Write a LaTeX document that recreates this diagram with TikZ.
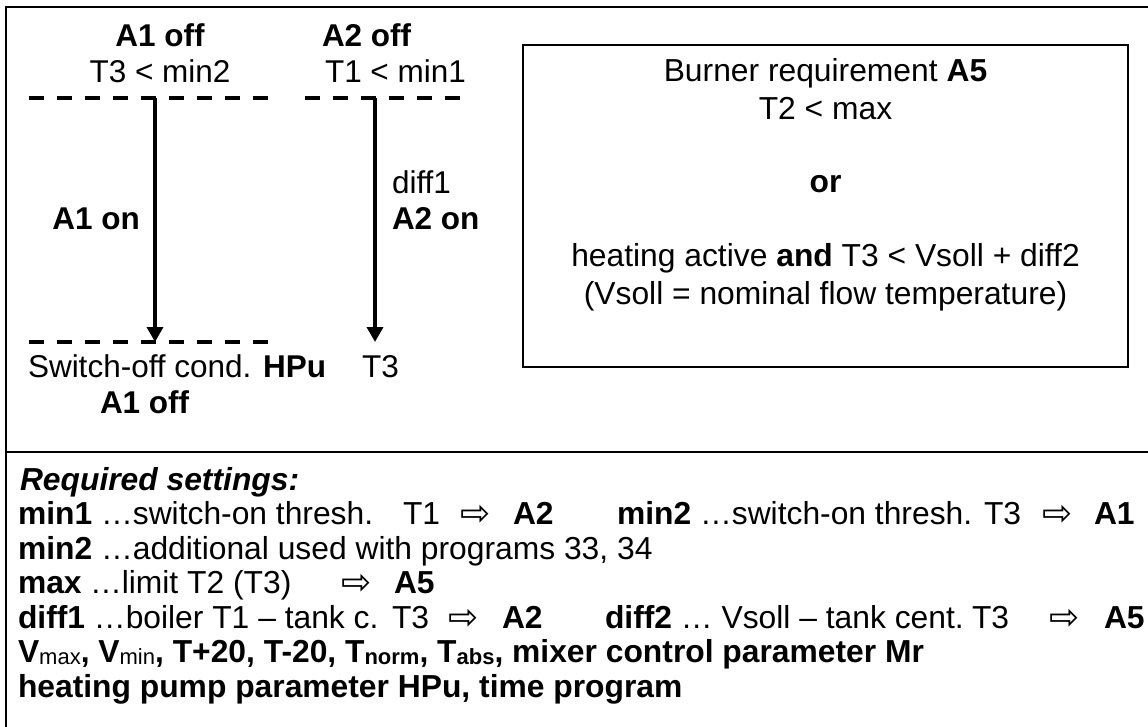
\documentclass[tikz,border=0pt]{standalone}
\usepackage{fontspec}
\setmainfont{Liberation Sans}
\newfontfamily\symfont{DejaVu Sans}
\usetikzlibrary{arrows.meta}
\newcommand\myarrow{{\symfont\fontsize{36}{36}\selectfont\raisebox{-1pt}{⇨}}}
\newcommand\mysubr[1]{{\fontsize{22}{22}\selectfont\mdseries\raisebox{-2pt}{#1}}}
\newcommand\mysubb[1]{{\fontsize{22}{22}\selectfont\bfseries\raisebox{-2pt}{#1}}}
\tikzset{
  txt/.style={inner sep=0pt, outer sep=0pt, font=\fontsize{31.5}{36}\selectfont},
  lt/.style={txt, anchor=base west},
  ct/.style={txt, anchor=base},
  rt/.style={txt, anchor=base east},
  bt/.style={inner sep=0pt, outer sep=0pt, anchor=base, font=\fontsize{31.8}{36}\selectfont},
  st/.style={inner sep=0pt, outer sep=0pt, anchor=base west, font=\fontsize{31.8}{36}\selectfont},
  dline/.style={line width=4pt, dash pattern=on 15pt off 13pt, line cap=butt},
  flow/.style={line width=3.5pt, -{Triangle[width=16pt,length=15pt]}},
  frameline/.style={line width=2pt},
  condbox/.style={line width=2.5pt},
}
\begin{document}
\begin{tikzpicture}[x=1pt,y=-1pt]
\useasboundingbox (0,0) rectangle (1148,727);
% outer frame
\draw[frameline] (6,727) -- (6,7) -- (1148,7);
\draw[frameline] (6,452) -- (1148,452);
% condition box
\draw[condbox] (523,45) rectangle (1128,367);
\node[bt] (br) at (825.5,82) {Burner requirement \textbf{A5}};
\node[bt] (tmax) at (825.5,120) {T2 < max};
\node[bt] (or) at (825.5,193) {\textbf{or}};
\node[bt] (heat) at (825.5,267) {heating active \textbf{and} T3 < Vsoll + diff2};
\node[bt] (vsoll) at (825.5,304) {(Vsoll = nominal flow temperature)};
% top labels
\node[ct] (a1off) at (160,47) {\textbf{A1 off}};
\node[ct] (t3min2) at (160,83) {T3 < min2};
\node[lt] (a2off) at (322,47) {\textbf{A2 off}};
\node[lt] (t1min1) at (325,83) {T1 < min1};
% dashed levels
\coordinate (l1a) at (29,98);
\coordinate (l1b) at (268,98);
\coordinate (l2a) at (305,98);
\coordinate (l2b) at (462,98);
\coordinate (l3a) at (29,342);
\coordinate (l3b) at (268,342);
\draw[dline] (l1a) -- (l1b);
\draw[dline] (l2a) -- (l2b);
\draw[dline] (l3a) -- (l3b);
% arrows
\coordinate (a1top) at (155,98);
\coordinate (a1bot) at (155,342);
\coordinate (a2top) at (375,98);
\coordinate (a2bot) at (375,342);
\draw[flow] (a1top) -- (a1bot);
\draw[flow] (a2top) -- (a2bot);
\node[rt] (a1on) at (140,230) {\textbf{A1 on}};
\node[lt] (diff1) at (392,194) {diff1};
\node[lt] (a2on) at (392,230) {\textbf{A2 on}};
\node[lt] (swoff) at (28,377) {Switch-off cond. \textbf{HPu}};
\node[lt] (t3) at (362,377) {T3};
\node[lt] (a1off2) at (100,413) {\textbf{A1 off}};
% settings
\node[st] (req) at (20,490) {\textbf{\itshape Required settings:}};
\node[st] (s1a) at (18,524.5) {\textbf{min1} …switch-on thresh.};
\node[st] (s1b) at (403,524.5) {T1};
\node[st] (s1c) at (460,524.5) {\myarrow};
\node[st] (s1d) at (513,524.5) {\textbf{A2}};
\node[st] (s1e) at (617,524.5) {\textbf{min2} …switch-on thresh.};
\node[st] (s1f) at (984,524.5) {T3};
\node[st] (s1g) at (1042,524.5) {\myarrow};
\node[st] (s1h) at (1094,524.5) {\textbf{A1}};
\node[st] (s2) at (18,559) {\textbf{min2} …additional used with programs 33, 34};
\node[st] (s3a) at (18,593.5) {\textbf{max}};
\node[st] (s3b) at (90,593.5) {…limit T2 (T3)};
\node[st] (s3c) at (341,593.5) {\myarrow};
\node[st] (s3d) at (394,593.5) {\textbf{A5}};
\node[st] (s4a) at (18,628) {\textbf{diff1} …boiler T1 – tank c.};
\node[st] (s4b) at (392,628) {T3};
\node[st] (s4c) at (448,628) {\myarrow};
\node[st] (s4d) at (502,628) {\textbf{A2}};
\node[st] (s4e) at (605,628) {\textbf{diff2} … Vsoll – tank cent.};
\node[st] (s4f) at (972,628) {T3};
\node[st] (s4g) at (1049,628) {\myarrow};
\node[st] (s4h) at (1104,628) {\textbf{A5}};
\node[st] (s5) at (18,662.5) {\bfseries V\mysubr{max}, V\mysubr{min}, T+20, T-20, T\mysubb{norm}, T\mysubb{abs}, mixer control parameter Mr};
\node[st] (s6) at (18,697) {\textbf{heating pump parameter HPu, time program}};
\end{tikzpicture}
\end{document}
